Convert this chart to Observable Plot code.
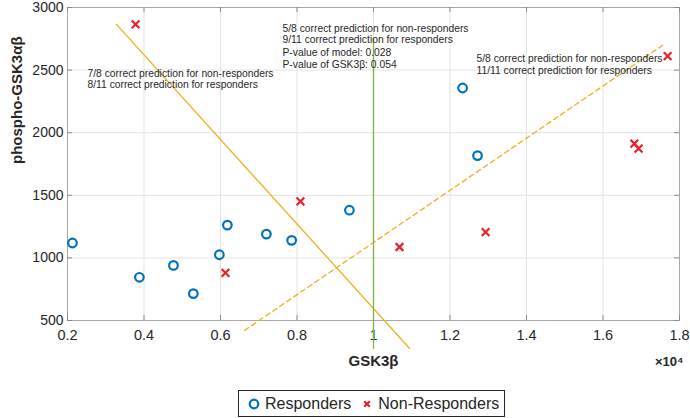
<!DOCTYPE html>
<html>
<head>
<meta charset="utf-8">
<script src="https://cdn.jsdelivr.net/npm/d3@7"></script>
<script src="https://cdn.jsdelivr.net/npm/@observablehq/plot@0.6"></script>
<style>
  html, body { margin: 0; padding: 0; background: #fff; }
  #wrap { position: relative; width: 690px; height: 418px; font-family: "Liberation Sans", Arial, sans-serif; }
  #legend { position: absolute; left: 238px; top: 390px; width: 265px; height: 25px; border: 1px solid #262626;
            display: flex; align-items: center; font-size: 16px; color: #262626; background: #fff; box-sizing: content-box; }
  #legend .item { display: flex; align-items: center; }
  #legend svg { display: block; }
</style>
</head>
<body>
<div id="wrap"></div>
<script>
// ---- data ----
const xTicks = [2000, 4000, 6000, 8000, 10000, 12000, 14000, 16000, 18000];
const xTickLabels = ["0.2", "0.4", "0.6", "0.8", "1", "1.2", "1.4", "1.6", "1.8"];
const yTicks = [500, 1000, 1500, 2000, 2500, 3000];
const yTickLabels = ["500", "1000", "1500", "2000", "2500", "3000"];

const respX = [2130, 3880, 4770, 5290, 5970, 6180, 7200, 7860, 9370, 12330, 12720];
const respY = [1119, 845, 940, 715, 1025, 1262, 1190, 1140, 1381, 2357, 1817];

const nonX = [3780, 6130, 8090, 10680, 12930, 16820, 16930, 17690];
const nonY = [2865, 881, 1452, 1087, 1206, 1913, 1873, 2611];

const solidLineX = [3280, 10940];
const solidLineY = [2865, 278];
const dashedLineX = [6630, 17560];
const dashedLineY = [421, 2698];
const greenLineX = [10000, 10000];
const greenLineY = [278, 2750];

const annoText = [
  "7/8 correct prediction for non-responders",
  "8/11 correct prediction for responders",
  "5/8 correct prediction for non-responders",
  "9/11 correct prediction for responders",
  "P-value of model: 0.028",
  "P-value of GSK3\u03b2: 0.054",
  "5/8 correct prediction for non-responders",
  "11/11 correct prediction for responders"
];
const annoX = [2523, 2523, 7621, 7621, 7621, 7621, 12693, 12693];
const annoY = [2468, 2385, 2829, 2742, 2635, 2544, 2591, 2496];

const xLabel = "GSK3\u03b2";
const yLabel = "phospho-GSK3\u03b1\u03b2";
const legendLabels = ["Responders", "Non-Responders"];

// ---- style ----
const blue = "#0072BD";
const red = "#e8202a";
const yellow = "#EDB120";
const green = "#7cb342";
const W = 690, H = 385;
const mL = 67, mR = 11, mT = 7, mB = 65;
const pW = W - mL - mR, pH = H - mT - mB;
const axisColor = "#262626";

const annos = annoText.map((t, i) => ({t, x: annoX[i], y: annoY[i]}));

const chart = Plot.plot({
  width: W, height: H,
  marginLeft: mL, marginRight: mR, marginTop: mT, marginBottom: mB,
  style: {fontFamily: "'Liberation Sans', Arial, sans-serif", fontSize: "10px", background: "#fff", overflow: "visible"},
  x: {domain: [2000, 18000]},
  y: {domain: [500, 3000]},
  marks: [
    Plot.gridX(xTicks, {stroke: "#e3e3e3", strokeOpacity: 1}),
    Plot.gridY(yTicks, {stroke: "#e3e3e3", strokeOpacity: 1}),
    Plot.frame({stroke: "#a8a8a8"}),
    Plot.tickX(xTicks, {x: d => d, insetTop: pH - 5, stroke: "#8a8a8a"}),
    Plot.tickX(xTicks, {x: d => d, insetBottom: pH - 5, stroke: "#8a8a8a"}),
    Plot.tickY(yTicks, {y: d => d, insetRight: pW - 5, stroke: "#8a8a8a"}),
    Plot.tickY(yTicks, {y: d => d, insetLeft: pW - 5, stroke: "#8a8a8a"}),
    Plot.axisX(xTicks, {tickSize: 0, tickPadding: 9, fontSize: 14.5, fill: axisColor,
      tickFormat: d => xTickLabels[xTicks.indexOf(d)], label: null}),
    Plot.axisY(yTicks, {tickSize: 0, tickPadding: 4, fontSize: 14, fill: axisColor,
      tickFormat: d => yTickLabels[yTicks.indexOf(d)], label: null}),
    Plot.line(d3.zip(solidLineX, solidLineY), {stroke: yellow, strokeWidth: 1.3}),
    Plot.line(d3.zip(dashedLineX, dashedLineY), {stroke: yellow, strokeWidth: 1.3, strokeDasharray: "5,3.5"}),
    Plot.line(d3.zip(greenLineX, greenLineY), {stroke: green, strokeWidth: 1.3}),
    Plot.dot(d3.zip(respX, respY), {r: 4.3, stroke: blue, strokeWidth: 2.2, fill: "none"}),
    Plot.dot(d3.zip(nonX, nonY), {symbol: "times", r: 3.6, stroke: red, strokeWidth: 2.2}),
    Plot.text(annos, {x: "x", y: "y", text: "t", textAnchor: "start", fontSize: 10.3, fill: "#262626"}),
    Plot.text([xLabel], {frameAnchor: "bottom", dy: 45, fontSize: 15, fontWeight: "bold", fill: axisColor}),
    Plot.text(["\u00d710\u2074"], {frameAnchor: "bottom-right", textAnchor: "end", dx: 4, dy: 45, fontSize: 13, fontWeight: "bold", fill: axisColor}),
    Plot.text([yLabel], {frameAnchor: "left", rotate: -90, dx: -50, fontSize: 15, fontWeight: "bold", fill: axisColor})
  ]
});

const wrap = document.getElementById("wrap");
wrap.appendChild(chart);

const legend = document.createElement("div");
legend.id = "legend";
legend.innerHTML =
  `<div class="item" style="margin-left:8px"><svg width="14" height="14"><circle cx="7" cy="7" r="4.3" fill="none" stroke="${blue}" stroke-width="2.2"/></svg><span style="margin-left:4px">${legendLabels[0]}</span></div>` +
  `<div class="item" style="margin-left:9px"><svg width="14" height="14"><path d="M4.2,4.2L9.8,9.8M9.8,4.2L4.2,9.8" stroke="${red}" stroke-width="2.2"/></svg><span style="margin-left:4px">${legendLabels[1]}</span></div>`;
wrap.appendChild(legend);
</script>
</body>
</html>
